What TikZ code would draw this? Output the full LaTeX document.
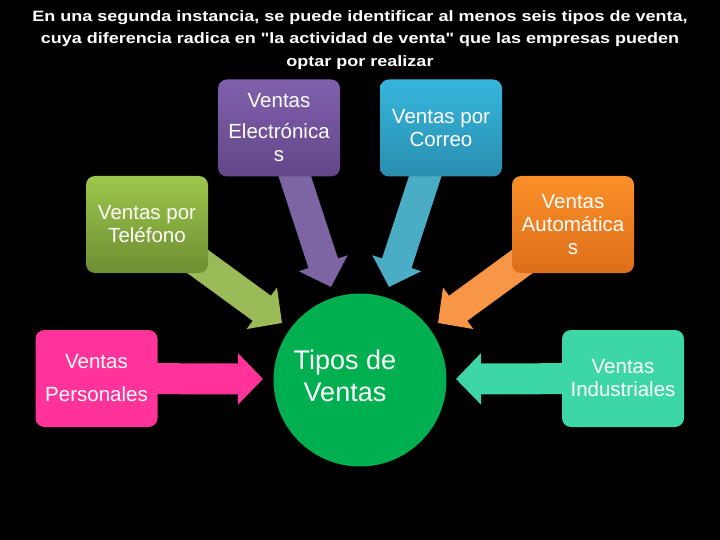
\documentclass[tikz,border=0pt]{standalone}
\usepackage{fontspec}
\setmainfont{Liberation Sans}
\usetikzlibrary{arrows.meta}

% Colores
\definecolor{moradoA}{HTML}{8060AC}
\definecolor{moradoB}{HTML}{634689}
\definecolor{azulA}{HTML}{36B6DD}
\definecolor{azulB}{HTML}{2A8EAF}
\definecolor{verdeA}{HTML}{9DC74C}
\definecolor{verdeB}{HTML}{6E8E33}
\definecolor{naranjaA}{HTML}{FB9029}
\definecolor{naranjaB}{HTML}{DC6E1A}
\definecolor{rosa}{HTML}{FF3399}
\definecolor{turquesa}{HTML}{3DD6A6}
\definecolor{circulo}{HTML}{00B050}
\definecolor{flechaMorado}{HTML}{7D64A3}
\definecolor{flechaAzul}{HTML}{4BACC6}
\definecolor{flechaVerde}{HTML}{9BBB59}
\definecolor{flechaNaranja}{HTML}{F79646}

\begin{document}
\begin{tikzpicture}[x=1pt, y=-1pt,
  caja/.style={rounded corners=9pt, minimum width=122pt, minimum height=97pt,
    inner sep=0pt, align=center, text=white, font=\fontsize{20.5}{23}\selectfont},
  flecha/.style={line width=31pt, -{Triangle[length=25pt, width=50pt]}}]
% Fondo
\fill[black] (0,0) rectangle (720,540);

% Centros de las cajas
\coordinate (E) at (279,128);
\coordinate (C) at (441,128);
\coordinate (T) at (147,224.5);
\coordinate (A) at (573,224.5);
\coordinate (P) at (96.5,378.5);
\coordinate (I) at (623,378.5);
\coordinate (V) at (360,380);

% Puntas de las flechas
\coordinate (Ep) at (331,287);
\coordinate (Cp) at (389,287);
\coordinate (Tp) at (282,323);
\coordinate (Ap) at (438,323);
\coordinate (Pp) at (263,379);
\coordinate (Ip) at (456,379);

% Flechas
\draw[flecha, flechaMorado] (E) -- (Ep);
\draw[flecha, flechaAzul] (C) -- (Cp);
\draw[flecha, flechaVerde] (T) -- (Tp);
\draw[flecha, flechaNaranja] (A) -- (Ap);
\draw[flecha, rosa] (P) -- (Pp);
\draw[flecha, turquesa] (I) -- (Ip);

% Cajas
\node[caja, top color=moradoA, bottom color=moradoB] (electronicas) at (E)
  {Ventas\\[8pt] Electrónica\\ s};
\node[caja, top color=azulA, bottom color=azulB] (correo) at (C)
  {Ventas por\\ Correo};
\node[caja, top color=verdeA, bottom color=verdeB] (telefono) at (T)
  {Ventas por\\ Teléfono};
\node[caja, top color=naranjaA, bottom color=naranjaB] (automaticas) at (A)
  {Ventas\\ Automática\\ s};
\node[caja, fill=rosa] (personales) at (P)
  {Ventas\\[10pt] Personales};
\node[caja, fill=turquesa] (industriales) at (I)
  {Ventas\\ Industriales};

% Circulo central
\node[circle, fill=circulo, minimum size=173pt, inner sep=0pt] (tipos) at (V) {};
\node[align=center, text=white, font=\fontsize{27}{32}\selectfont] (tiposTexto)
  at (345,376) {Tipos de\\ Ventas};

% Titulo
\node[align=center, text=white, xscale=1.2, transform shape,
  font=\bfseries\fontsize{15}{22.5}\selectfont] (titulo)
  at (360,40) {En una segunda instancia, se puede identificar al menos seis tipos de venta,\\
  cuya diferencia radica en \textquotedbl la actividad de venta\textquotedbl{} que las empresas pueden\\
  optar por realizar};
\end{tikzpicture}
\end{document}
